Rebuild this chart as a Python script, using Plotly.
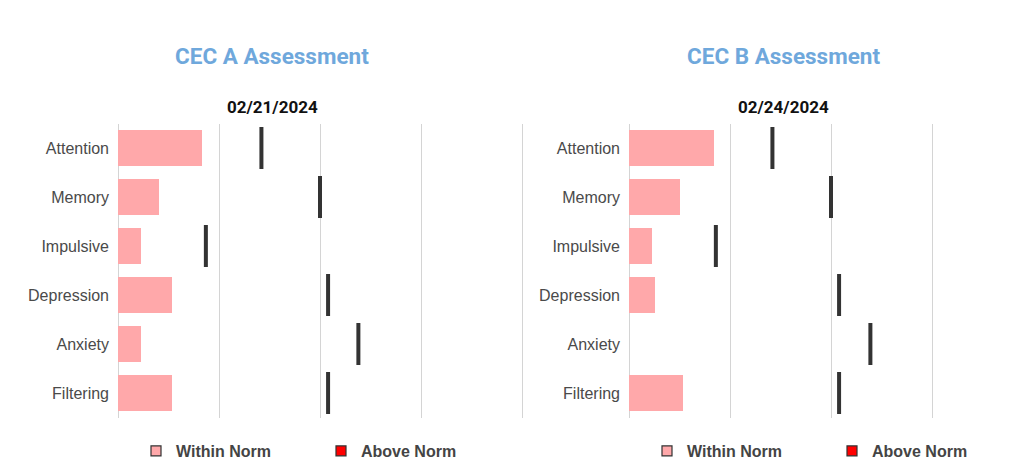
import plotly.graph_objects as go

categories = ["Attention", "Memory", "Impulsive", "Depression", "Anxiety", "Filtering"]

# CEC A (02/21/2024)
within_a = [8.35, 4.1, 2.3, 5.3, 2.3, 5.3]
above_a = [0, 0, 0, 0, 0, 0]
norm_a = [14.2, 20.0, 8.7, 20.8, 23.8, 20.8]

# CEC B (02/24/2024)
within_b = [8.4, 5.05, 2.25, 2.6, 0, 5.3]
above_b = [0, 0, 0, 0, 0, 0]
norm_b = [14.2, 20.0, 8.6, 20.8, 23.9, 20.8]

titles = ["CEC A Assessment", "CEC B Assessment"]
dates = ["02/21/2024", "02/24/2024"]
legend_names = ["Within Norm", "Above Norm"]

W, H = 1024, 470
PX = 10.1  # pixels per unit
PINK = "#ffa8aa"
RED = "#ff0000"
MARK = "#333333"
GRID = "#d4d4d4"

fig = go.Figure()

panels = [
    (within_a, above_a, norm_a, "x", "y", "legend"),
    (within_b, above_b, norm_b, "x2", "y2", "legend2"),
]
for within, above, norm, xa, ya, lg in panels:
    fig.add_trace(go.Bar(y=categories, x=within, orientation="h", xaxis=xa, yaxis=ya,
                         marker=dict(color=PINK, line=dict(width=0)), width=0.735,
                         showlegend=False, hoverinfo="skip"))
    fig.add_trace(go.Bar(y=categories, x=above, orientation="h", xaxis=xa, yaxis=ya,
                         marker=dict(color=RED, line=dict(width=0)), width=0.735,
                         showlegend=False, hoverinfo="skip"))
    fig.add_trace(go.Scatter(y=categories, x=norm, mode="markers", xaxis=xa, yaxis=ya,
                             marker=dict(symbol="line-ns", size=30, color=MARK,
                                         line=dict(width=4, color=MARK)),
                             showlegend=False, hoverinfo="skip"))
    for name, col in zip(legend_names, [PINK, RED]):
        fig.add_trace(go.Scatter(x=[None], y=[None], mode="markers", name=name, xaxis=xa, yaxis=ya,
                                 marker=dict(symbol="square", size=10, color=col,
                                             line=dict(width=1.2, color="#333333")),
                                 legend=lg, showlegend=True))

ydom = [1 - 417.5 / H, 1 - 123.5 / H]
yax = dict(domain=ydom, type="category", categoryorder="array", categoryarray=categories,
           range=[5.5, -0.5], showgrid=False, zeroline=False, showline=False,
           ticks="", ticklabelstandoff=8, automargin=False,
           tickfont=dict(family="Liberation Sans, Arial", size=16, color="#4a4a4a"))
xax = dict(showticklabels=False, showgrid=True, gridcolor=GRID, gridwidth=1,
           zeroline=True, zerolinecolor=GRID, zerolinewidth=1, showline=False,
           dtick=10, tick0=0, ticks="", automargin=False, fixedrange=True)

left_range = 40.4
legend_font = dict(family="Liberation Sans, Arial", size=16, color="#444444", weight="bold")
fig.update_layout(
    width=W, height=H,
    margin=dict(l=0, r=0, t=0, b=0),
    paper_bgcolor="white", plot_bgcolor="white",
    barmode="stack", bargap=0.27,
    xaxis=dict(xax, domain=[118 / W, (118 + left_range * PX) / W], range=[0, left_range], anchor="y"),
    yaxis=dict(yax, anchor="x"),
    xaxis2=dict(xax, domain=[629 / W, 1.0], range=[0, (W - 629) / PX], anchor="y2"),
    yaxis2=dict(yax, anchor="x2"),
    legend=dict(orientation="h", x=136 / W, xanchor="left", y=1 - 451 / H, yanchor="middle",
                traceorder="normal", entrywidth=140, entrywidthmode="pixels",
                bgcolor="rgba(0,0,0,0)", font=legend_font),
    legend2=dict(orientation="h", x=647 / W, xanchor="left", y=1 - 451 / H, yanchor="middle",
                 traceorder="normal", entrywidth=140, entrywidthmode="pixels",
                 bgcolor="rgba(0,0,0,0)", font=legend_font),
)

title_x = [272 / W, 783 / W]
for tx, t, d in zip(title_x, titles, dates):
    fig.add_annotation(text=t, xref="paper", yref="paper", x=tx, y=1 - 56 / H,
                       xanchor="center", yanchor="middle", showarrow=False,
                       font=dict(family="Roboto", size=22.5, color="#6fa8dc", weight="bold"))
    fig.add_annotation(text=d, xref="paper", yref="paper", x=tx, y=1 - 107 / H,
                       xanchor="center", yanchor="middle", showarrow=False,
                       font=dict(family="Roboto", size=17, color="#111111", weight="bold"))

fig.write_html("out.html", config={"displayModeBar": False},
               post_script="document.body.style.margin='0px';document.body.style.overflow='hidden';")
